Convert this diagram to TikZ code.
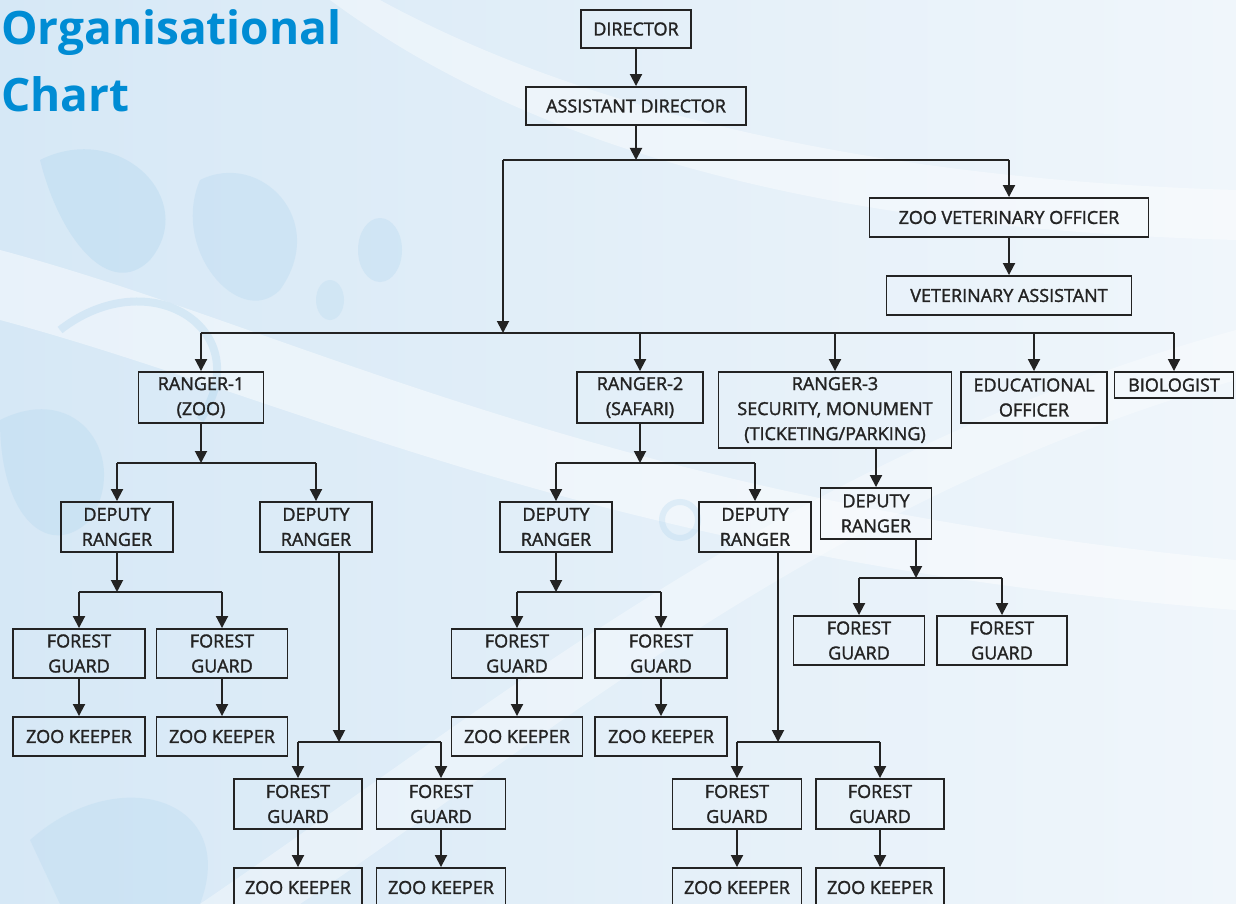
\documentclass[tikz,border=0pt]{standalone}
\usepackage{fontspec}
\setmainfont{Open Sans}
\newfontfamily\boxfont[FakeBold=1.6]{Open Sans}
\usetikzlibrary{arrows.meta}
\definecolor{ink}{RGB}{35,35,35}
\definecolor{titleblue}{RGB}{0,140,212}
\definecolor{bgA}{RGB}{214,232,246}
\definecolor{bgB}{RGB}{240,246,251}
\definecolor{swirl}{RGB}{165,208,236}
\begin{document}
\begin{tikzpicture}[x=1pt,y=-1pt,
  box/.style={draw=ink, line width=1.9pt, align=center, inner sep=0pt,
    font=\boxfont\fontsize{18}{25}\selectfont, text=ink},
  link/.style={draw=ink, line width=1.9pt},
  arr/.style={link, -{Triangle[length=12pt,width=12pt]}},
  ttl/.style={anchor=base west, inner sep=0pt, text=titleblue,
    font=\fontsize{46}{50}\selectfont\bfseries}
]
\useasboundingbox (0,0) rectangle (1236,904);
% background
\fill[left color=bgA, right color=bgB] (0,0) rectangle (1236,904);
\fill[white, opacity=0.45] (0,250) .. controls (300,330) and (600,500) .. (1236,560)
  -- (1236,610) .. controls (600,560) and (300,400) .. (0,320) -- cycle;
\fill[white, opacity=0.35] (200,904) .. controls (500,700) and (800,450) .. (1236,330)
  -- (1236,380) .. controls (820,500) and (560,730) .. (300,904) -- cycle;
\fill[white, opacity=0.4] (380,0) .. controls (600,120) and (900,180) .. (1236,190)
  -- (1236,240) .. controls (880,230) and (560,170) .. (330,0) -- cycle;
\fill[swirl, opacity=0.28] (40,160) .. controls (120,120) and (200,200) .. (150,260)
  .. controls (110,300) and (60,240) .. (40,160) -- cycle;
\fill[swirl, opacity=0.24] (200,180) .. controls (260,150) and (330,220) .. (280,290)
  .. controls (240,330) and (170,250) .. (200,180) -- cycle;
\fill[swirl, opacity=0.24] (0,420) .. controls (80,380) and (130,460) .. (90,520)
  .. controls (50,560) and (0,520) .. (0,420) -- cycle;
\fill[swirl, opacity=0.24] (380,250) ellipse (22 and 32);
\fill[swirl, opacity=0.2] (330,300) ellipse (14 and 20);
\fill[swirl, opacity=0.22] (30,840) .. controls (120,760) and (240,800) .. (200,904)
  -- (60,904) -- cycle;
\draw[swirl, opacity=0.3, line width=8pt] (60,330) .. controls (150,260) and (260,330) .. (200,420);
\draw[swirl, opacity=0.25, line width=6pt] (680,520) circle (18);

% title
\node[ttl] (t1) at (1,45) {Organisational};
\node[ttl] (t2) at (1,112) {Chart};

% nodes
\node[box, minimum width=110pt, minimum height=38pt] (dir) at (636,29) {DIRECTOR};
\node[box, minimum width=220pt, minimum height=38pt] (ad) at (636,106) {ASSISTANT DIRECTOR};
\node[box, minimum width=279pt, minimum height=39pt] (zvo) at (1009,217.5) {ZOO VETERINARY OFFICER};
\node[box, minimum width=245pt, minimum height=39pt] (va) at (1009,295.5) {VETERINARY ASSISTANT};

\node[box, minimum width=125pt, minimum height=51pt] (r1) at (201,397.5) {RANGER-1\\(ZOO)};
\node[box, minimum width=126pt, minimum height=51pt] (r2) at (640,397.5) {RANGER-2\\(SAFARI)};
\node[box, minimum width=233pt, minimum height=76pt] (r3) at (835,410) {RANGER-3\\SECURITY, MONUMENT\\(TICKETING/PARKING)};
\node[box, minimum width=146pt, minimum height=51pt] (edu) at (1034,397.5) {EDUCATIONAL\\OFFICER};
\node[box, minimum width=119pt, minimum height=26pt] (bio) at (1174,385) {BIOLOGIST};

\node[box, minimum width=112pt, minimum height=50pt] (dr1a) at (117,527) {DEPUTY\\RANGER};
\node[box, minimum width=112pt, minimum height=50pt] (dr1b) at (316,527) {DEPUTY\\RANGER};
\node[box, minimum width=112pt, minimum height=50pt] (dr2a) at (556,527) {DEPUTY\\RANGER};
\node[box, minimum width=112pt, minimum height=50pt] (dr2b) at (755,527) {DEPUTY\\RANGER};
\node[box, minimum width=111pt, minimum height=51pt] (dr3) at (876,513.5) {DEPUTY\\RANGER};

\node[box, minimum width=132pt, minimum height=49pt] (fg1) at (79,653.5) {FOREST\\GUARD};
\node[box, minimum width=131pt, minimum height=49pt] (fg2) at (222,653.5) {FOREST\\GUARD};
\node[box, minimum width=132pt, minimum height=39pt] (zk1) at (79,736.5) {ZOO KEEPER};
\node[box, minimum width=131pt, minimum height=39pt] (zk2) at (222,736.5) {ZOO KEEPER};

\node[box, minimum width=128pt, minimum height=50pt] (fg3) at (298,804) {FOREST\\GUARD};
\node[box, minimum width=129pt, minimum height=50pt] (fg4) at (441,804) {FOREST\\GUARD};
\node[box, minimum width=128pt, minimum height=39pt] (zk3) at (298,887.5) {ZOO KEEPER};
\node[box, minimum width=129pt, minimum height=39pt] (zk4) at (441,887.5) {ZOO KEEPER};

\node[box, minimum width=131pt, minimum height=49pt] (fg5) at (517,653.5) {FOREST\\GUARD};
\node[box, minimum width=132pt, minimum height=49pt] (fg6) at (661,653.5) {FOREST\\GUARD};
\node[box, minimum width=131pt, minimum height=39pt] (zk5) at (517,736.5) {ZOO KEEPER};
\node[box, minimum width=132pt, minimum height=39pt] (zk6) at (661,736.5) {ZOO KEEPER};

\node[box, minimum width=129pt, minimum height=50pt] (fg7) at (737,804) {FOREST\\GUARD};
\node[box, minimum width=128pt, minimum height=50pt] (fg8) at (880,804) {FOREST\\GUARD};
\node[box, minimum width=129pt, minimum height=39pt] (zk7) at (737,887.5) {ZOO KEEPER};
\node[box, minimum width=128pt, minimum height=39pt] (zk8) at (880,887.5) {ZOO KEEPER};

\node[box, minimum width=131pt, minimum height=49pt] (fg9) at (859,640.5) {FOREST\\GUARD};
\node[box, minimum width=130pt, minimum height=49pt] (fg10) at (1002,640.5) {FOREST\\GUARD};

% junction coordinates
\coordinate (j0) at (636,160);
\coordinate (jL) at (503,160);
\coordinate (h1) at (503,333);
\coordinate (h2) at (201,463);
\coordinate (h3) at (117,592);
\coordinate (h4) at (339,742);
\coordinate (h5) at (640,463);
\coordinate (h6) at (556,592);
\coordinate (h7) at (778,742);
\coordinate (h9) at (916,578);

% connectors
\draw[arr] (dir) -- (ad);
\draw[arr] (ad.south) -- (j0);
\draw[link] (jL) -- (zvo.north |- j0);
\draw[arr] (zvo.north |- j0) -- (zvo.north);
\draw[arr] (jL) -- (h1);
\draw[arr] (zvo) -- (va);
\draw[link] (r1.north |- h1) -- (bio.north |- h1);
\foreach \n in {r1,r2,r3,edu,bio} \draw[arr] (\n.north |- h1) -- (\n.north);

\draw[arr] (r1.south) -- (h2);
\draw[link] (dr1a.north |- h2) -- (dr1b.north |- h2);
\foreach \n in {dr1a,dr1b} \draw[arr] (\n.north |- h2) -- (\n.north);
\draw[arr] (dr1a.south) -- (h3);
\draw[link] (fg1.north |- h3) -- (fg2.north |- h3);
\foreach \n in {fg1,fg2} \draw[arr] (\n.north |- h3) -- (\n.north);
\draw[arr] (fg1) -- (zk1);
\draw[arr] (fg2) -- (zk2);
\draw[arr] (h4 |- dr1b.south) -- (h4);
\draw[link] (fg3.north |- h4) -- (fg4.north |- h4);
\foreach \n in {fg3,fg4} \draw[arr] (\n.north |- h4) -- (\n.north);
\draw[arr] (fg3) -- (zk3);
\draw[arr] (fg4) -- (zk4);

\draw[arr] (r2.south) -- (h5);
\draw[link] (dr2a.north |- h5) -- (dr2b.north |- h5);
\foreach \n in {dr2a,dr2b} \draw[arr] (\n.north |- h5) -- (\n.north);
\draw[arr] (dr2a.south) -- (h6);
\draw[link] (fg5.north |- h6) -- (fg6.north |- h6);
\foreach \n in {fg5,fg6} \draw[arr] (\n.north |- h6) -- (\n.north);
\draw[arr] (fg5) -- (zk5);
\draw[arr] (fg6) -- (zk6);
\draw[arr] (h7 |- dr2b.south) -- (h7);
\draw[link] (fg7.north |- h7) -- (fg8.north |- h7);
\foreach \n in {fg7,fg8} \draw[arr] (\n.north |- h7) -- (\n.north);
\draw[arr] (fg7) -- (zk7);
\draw[arr] (fg8) -- (zk8);

\draw[arr] (dr3.north |- r3.south) -- (dr3.north);
\draw[arr] (h9 |- dr3.south) -- (h9);
\draw[link] (fg9.north |- h9) -- (fg10.north |- h9);
\foreach \n in {fg9,fg10} \draw[arr] (\n.north |- h9) -- (\n.north);
\end{tikzpicture}
\end{document}
